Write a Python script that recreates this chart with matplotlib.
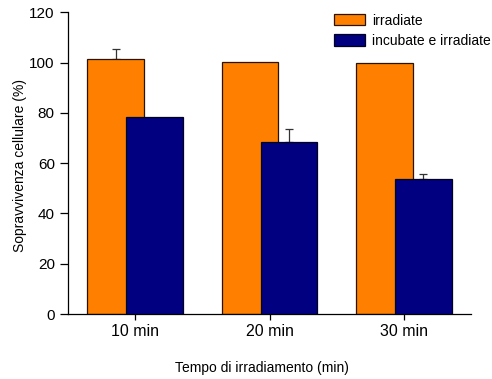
import numpy as np
import matplotlib.pyplot as plt

plt.rcParams['font.family'] = ['Liberation Sans', 'DejaVu Sans']

categories = ['10 min', '20 min', '30 min']
irradiate = [101.3, 100.1, 100.0]
irradiate_err = [4.0, 0.0, 0.0]
incubate = [78.4, 68.5, 53.7]
incubate_err = [0.0, 5.0, 2.0]

x = np.arange(len(categories))
w = 0.42
off = 0.145

fig = plt.figure(figsize=(4.92, 3.79), dpi=100)
ax = fig.add_axes([68 / 492, 65 / 379, 403 / 492, 301.7 / 379])


def up_errors(xs, ys, es):
    # solo barre d'errore verso l'alto, e solo dove ce ne sono
    xs, ys, es = np.asarray(xs), np.asarray(ys), np.asarray(es)
    m = es > 0
    ax.errorbar(xs[m], ys[m], yerr=[np.zeros(m.sum()), es[m]],
                fmt='none', ecolor='#333333', elinewidth=0.9, capsize=3,
                capthick=0.9, zorder=1)


ax.bar(x - off, irradiate, w, color='#FF8000', edgecolor='#2a1400',
       linewidth=0.9, label='irradiate', zorder=2)
up_errors(x - off, irradiate, irradiate_err)
ax.bar(x + off, incubate, w, color='#000080', edgecolor='#000020',
       linewidth=0.9, label='incubate e irradiate', zorder=3)
up_errors(x + off, incubate, incubate_err)

ax.set_xlim(-0.5, 2.5)
ax.set_ylim(0, 120)
ax.set_yticks([0, 20, 40, 60, 80, 100, 120])
ax.set_xticks(x)
ax.set_xticklabels(categories, fontsize=11.5)
ax.tick_params(axis='y', labelsize=11, direction='out', length=6, width=0.9)
ax.tick_params(axis='x', direction='out', length=4, width=0.9, pad=3)
for s in ['top', 'right']:
    ax.spines[s].set_visible(False)
ax.spines['left'].set_linewidth(0.9)
ax.spines['bottom'].set_linewidth(0.9)

fig.text(20 / 492, 1 - 165 / 379, 'Sopravvivenza cellulare (%)',
         fontsize=10, rotation=90, ha='center', va='center')
fig.text(262 / 492, 1 - 368 / 379, 'Tempo di irradiamento (min)',
         fontsize=10, ha='center', va='center')

leg = ax.legend(loc='upper left', bbox_to_anchor=(328 / 492, 1 - 8 / 379),
                bbox_transform=fig.transFigure, frameon=False, fontsize=10,
                handlelength=2.25, handleheight=0.85, handletextpad=0.55,
                labelspacing=0.45, borderaxespad=0)

fig.savefig('out.png', dpi=100)
